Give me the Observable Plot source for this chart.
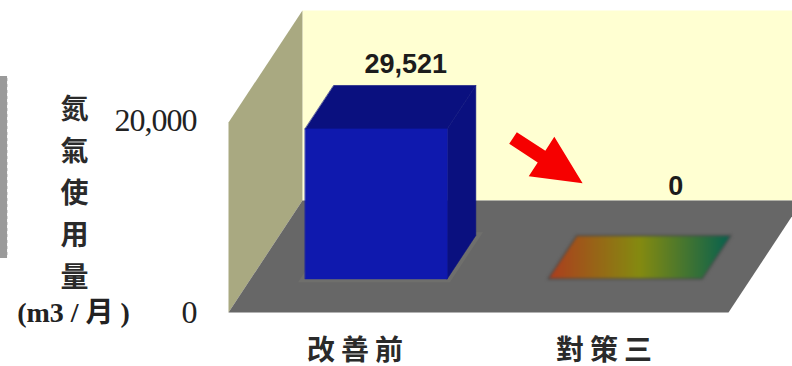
<!DOCTYPE html>
<html>
<head>
<meta charset="utf-8">
<script src="https://cdn.jsdelivr.net/npm/d3@7"></script>
<script src="https://cdn.jsdelivr.net/npm/@observablehq/plot@0.6"></script>
<style>
  html, body { margin: 0; padding: 0; background: #fff; }
  #chart { position: relative; width: 792px; height: 366px; overflow: hidden; }
  #chart svg { position: absolute; left: 0; top: 0; background: transparent; }
  [aria-label="y-axis tick label"] text { letter-spacing: -1px; }
  [aria-label="x-axis tick label"] text { letter-spacing: 6px; }
</style>
</head>
<body>
<div id="chart"></div>
<script>
// Monthly nitrogen use before the improvement and after countermeasure three.
const categories = ["改善前", "對策三"];
const usage = [29521, 0];
const tickValues = [0, 20000];
const titleChars = ["氮", "氣", "使", "用", "量"];
const titleUnit = "(m3 / 月 )";

// Pseudo-3D box: horizontal position is in category steps, height in m3/month,
// and "depth" runs from 0 at the front floor edge to 1 at the back wall.
const depthX = 0.297;
const depthY = 22043;
const wallHeight = 37393;
const floorLeft = -0.504;
const floorRight = 1.504;
const barFront = 0.30;
const barBack = 0.6875;
const barHalfWidth = [0.285, 0.31];

const project = (pos, depth, value) => ({x: pos + depth * depthX, y: value + depth * depthY});
const poly = (points) => points.map(([p, d, v]) => project(p, d, v));

const wallBack = poly([[floorLeft, 1, 0], [floorRight, 1, 0], [floorRight, 1, wallHeight], [floorLeft, 1, wallHeight]]);
const wallSide = poly([[floorLeft, 0, 0], [floorLeft, 1, 0], [floorLeft, 1, wallHeight], [floorLeft, 0, wallHeight]]);
const floor = poly([[floorLeft, 0, 0], [floorRight, 0, 0], [floorRight, 1, 0], [floorLeft, 1, 0]]);

const face = (fill, points, extra = {}) =>
  Plot.line(points, {x: "x", y: "y", fill, stroke: "none", curve: "linear-closed", ...extra});
const solid = (fill, points) => face(fill, points, {stroke: fill, strokeWidth: 0.6});

const barMarks = usage.flatMap((value, i) => {
  const l = i - barHalfWidth[i];
  const r = i + barHalfWidth[i];
  if (value === 0) {
    // A zero reading leaves only a flat coloured plate on the floor.
    return [face("url(#zeroPlate)", poly([[l, barFront, 0], [r, barFront, 0], [r, barBack, 0], [l, barBack, 0]]),
      {stroke: "#4c4c4c", strokeWidth: 1.5, imageFilter: "blur(1.8px)"})];
  }
  return [
    face("#6f6f6c", poly([[l - 0.02, barFront - 0.03, 0], [r + 0.02, barFront - 0.03, 0], [r + 0.02, barBack + 0.03, 0], [l - 0.02, barBack + 0.03, 0]])),
    solid("#0a107f", poly([[l, barFront, value], [r, barFront, value], [r, barBack, value], [l, barBack, value]])),
    solid("#0a107f", poly([[r, barFront, 0], [r, barBack, 0], [r, barBack, value], [r, barFront, value]])),
    solid("#0f19ae", poly([[l, barFront, 0], [r, barFront, 0], [r, barFront, value], [l, barFront, value]]))
  ];
});

const sansBold = {fontFamily: "'Liberation Sans', Arial, sans-serif", fontWeight: "bold", fontSize: 27, fill: "#1c1c1c"};
const topOf = (i) => project(i, barBack, usage[i]);
const valueLabel = (i, dx, dy) =>
  Plot.text([topOf(i)], {x: "x", y: "y", text: () => d3.format(",")(usage[i]), dx, dy, ...sansBold});

const strip = [{x1: -1.45, x2: -1.39, y1: 10628, y2: 46447}];
const arrowTail = [{x: 0.6386, y: 34343}];

// Block arrow drawn pointing north, rotated into place by the vector mark.
const blockArrow = {
  draw(ctx, l) {
    const neck = -(l - 49);
    ctx.moveTo(-7, 0);
    ctx.lineTo(7, 0);
    ctx.lineTo(7, neck);
    ctx.lineTo(23.5, neck);
    ctx.lineTo(0, -l);
    ctx.lineTo(-23.5, neck);
    ctx.lineTo(-7, neck);
    ctx.closePath();
  }
};

const plateGradient = () => {
  const ns = "http://www.w3.org/2000/svg";
  const defs = document.createElementNS(ns, "defs");
  const grad = document.createElementNS(ns, "linearGradient");
  grad.setAttribute("id", "zeroPlate");
  [["0%", "#ac3c1e"], ["50%", "#848a10"], ["100%", "#05604f"]].forEach(([offset, color]) => {
    const stop = document.createElementNS(ns, "stop");
    stop.setAttribute("offset", offset);
    stop.setAttribute("stop-color", color);
    grad.appendChild(stop);
  });
  defs.appendChild(grad);
  return defs;
};

const scene = Plot.plot({
  width: 792,
  height: 366,
  marginTop: 0,
  marginRight: 0,
  marginLeft: 0,
  marginBottom: 32,
  x: {domain: [0, 1], range: [353.5, 602.5], axis: null},
  y: {domain: [0, 29521], range: [312, 162], axis: null},
  style: {background: "transparent"},
  marks: [
    plateGradient,
    Plot.rect(strip, {x1: "x1", x2: "x2", y1: "y1", y2: "y2", fill: "#9a9a9a"}),
    Plot.ruleX(strip, {x: "x2", y1: "y1", y2: "y2", stroke: "#fff", strokeWidth: 1.5, strokeDasharray: "3,3"}),
    face("#ffffd2", wallBack),
    face("#a9a981", wallSide),
    face("#676767", floor),
    ...barMarks,
    Plot.vector(arrowTail, {x: "x", y: "y", length: 83, rotate: 123, anchor: "start", shape: blockArrow, fill: "#f60000", stroke: "none"}),
    valueLabel(0, 1, -21),
    valueLabel(1, 22, -49),
    Plot.axisX({
      anchor: "bottom",
      ticks: [0, 1],
      tickFormat: (i) => categories[i],
      tickSize: 0,
      tickPadding: 6,
      dx: 4,
      label: null,
      fontSize: 28,
      fontWeight: "bold",
      fontFamily: "'Noto Sans CJK TC', sans-serif",
      fill: "#2a2a2a"
    })
  ]
});

const ticksLayer = Plot.plot({
  width: 792,
  height: 366,
  marginTop: 0,
  marginRight: 0,
  marginBottom: 0,
  marginLeft: 196,
  x: {axis: null},
  y: {domain: [0, 20000], range: [312, 120], axis: null},
  style: {background: "transparent"},
  marks: [
    Plot.axisY({
      anchor: "left",
      ticks: tickValues,
      tickFormat: d3.format(","),
      tickSize: 0,
      tickPadding: 0,
      label: null,
      fontSize: 32,
      fontFamily: "'Liberation Serif', serif",
      fill: "#222"
    }),
    Plot.text([titleChars.join("\n")], {
      text: (d) => d,
      frameAnchor: "top-left",
      dx: -122,
      dy: 89,
      lineAnchor: "top",
      textAnchor: "middle",
      lineHeight: 1.5,
      fontSize: 28,
      fontWeight: "bold",
      fontFamily: "'Noto Sans CJK TC', sans-serif",
      fill: "#2a2a2a"
    }),
    Plot.text([titleUnit], {
      text: (d) => d,
      frameAnchor: "top-left",
      dx: -123,
      dy: 302,
      lineAnchor: "top",
      textAnchor: "middle",
      fontSize: 28,
      fontWeight: "bold",
      fontFamily: "'Liberation Serif', 'Noto Sans CJK TC', serif",
      fill: "#222"
    })
  ]
});

const root = document.getElementById("chart");
root.appendChild(scene);
root.appendChild(ticksLayer);
</script>
</body>
</html>
